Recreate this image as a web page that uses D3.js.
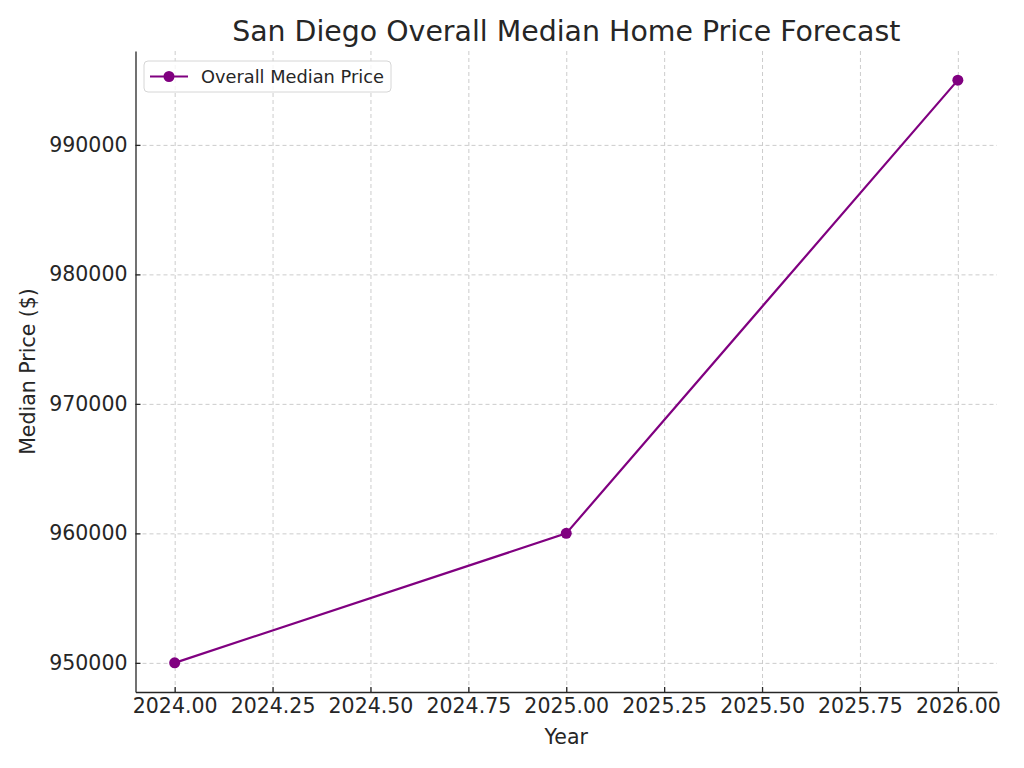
<!DOCTYPE html>
<html>
<head>
<meta charset="utf-8">
<script src="https://cdn.jsdelivr.net/npm/d3@7"></script>
<style>
  body { margin: 0; background: #fff; }
  text { font-family: "DejaVu Sans", sans-serif; fill: #262626; }
  .grid line { stroke: #cccccc; stroke-dasharray: 4,3; stroke-width: 1; }
  .grid path { display: none; }
  .axis path, .axis line { stroke: #262626; stroke-width: 1.3; }
</style>
</head>
<body>
<script>
// data
const years = [2024, 2025, 2026];
const prices = [950000, 960000, 995000];
const xTicks = [2024.00, 2024.25, 2024.50, 2024.75, 2025.00, 2025.25, 2025.50, 2025.75, 2026.00];
const yTicks = [950000, 960000, 970000, 980000, 990000];

const width = 1024, height = 768;
const margin = { top: 51, right: 27, bottom: 76, left: 135.5 };
const w = width - margin.left - margin.right;
const h = height - margin.top - margin.bottom;

const svg = d3.select("body").append("svg")
  .attr("width", width)
  .attr("height", height);

const g = svg.append("g")
  .attr("transform", `translate(${margin.left}, ${margin.top})`);

// matplotlib style 5% padding
const xPad = (d3.max(years) - d3.min(years)) * 0.05;
const yPad = (d3.max(prices) - d3.min(prices)) * 0.05;
const xScale = d3.scaleLinear().domain([d3.min(years) - xPad, d3.max(years) + xPad]).range([0, w]);
const yScale = d3.scaleLinear().domain([d3.min(prices) - yPad, d3.max(prices) + yPad]).range([h, 0]);

// Gridlines
g.append("g").attr("class", "grid")
  .attr("transform", `translate(0, ${h})`)
  .call(d3.axisBottom(xScale).tickValues(xTicks).tickSize(-h).tickFormat(""));
g.append("g").attr("class", "grid")
  .call(d3.axisLeft(yScale).tickValues(yTicks).tickSize(-w).tickFormat(""));

// Axes (left and bottom spines only, ticks point inward)
const xAxis = g.append("g").attr("class", "axis")
  .attr("transform", `translate(0, ${h})`)
  .call(d3.axisBottom(xScale).tickValues(xTicks).tickSizeOuter(0).tickSizeInner(-5).tickPadding(6).tickFormat(d3.format(".2f")));
xAxis.selectAll("text").style("font-size", "20.5px");

const yAxis = g.append("g").attr("class", "axis")
  .call(d3.axisLeft(yScale).tickValues(yTicks).tickSizeOuter(0).tickSizeInner(-5).tickPadding(8).tickFormat(d3.format("d")));
yAxis.selectAll("text").style("font-size", "20.5px");

// Line
const line = d3.line()
  .x((d, i) => xScale(years[i]))
  .y(d => yScale(d));

g.append("path")
  .datum(prices)
  .attr("fill", "none")
  .attr("stroke", "#800080")
  .attr("stroke-width", 2.2)
  .attr("d", line);

g.selectAll(".data-point")
  .data(prices)
  .enter().append("circle")
  .attr("class", "data-point")
  .attr("cx", (d, i) => xScale(years[i]))
  .attr("cy", d => yScale(d))
  .attr("r", 5.5)
  .attr("fill", "#800080");

// Title and labels
svg.append("text")
  .attr("x", margin.left + w / 2)
  .attr("y", 41)
  .attr("text-anchor", "middle")
  .style("font-size", "28.4px")
  .text("San Diego Overall Median Home Price Forecast");

svg.append("text")
  .attr("x", margin.left + w / 2)
  .attr("y", 744)
  .attr("text-anchor", "middle")
  .style("font-size", "20.5px")
  .text("Year");

svg.append("text")
  .attr("transform", "rotate(-90)")
  .attr("x", -(margin.top + h / 2))
  .attr("y", 35)
  .attr("text-anchor", "middle")
  .style("font-size", "20.5px")
  .text("Median Price ($)");

// Legend
const legend = g.append("g").attr("transform", "translate(8.5, 10)");
legend.append("rect")
  .attr("width", 247)
  .attr("height", 31)
  .attr("rx", 4)
  .attr("fill", "#fff")
  .attr("fill-opacity", 0.8)
  .attr("stroke", "#d6d6d6");
legend.append("line")
  .attr("x1", 6).attr("x2", 44)
  .attr("y1", 15.5).attr("y2", 15.5)
  .attr("stroke", "#800080")
  .attr("stroke-width", 2.2);
legend.append("circle")
  .attr("cx", 25).attr("cy", 15.5).attr("r", 5.5)
  .attr("fill", "#800080");
legend.append("text")
  .attr("x", 57)
  .attr("y", 21.5)
  .style("font-size", "17.8px")
  .text("Overall Median Price");
</script>
</body>
</html>
